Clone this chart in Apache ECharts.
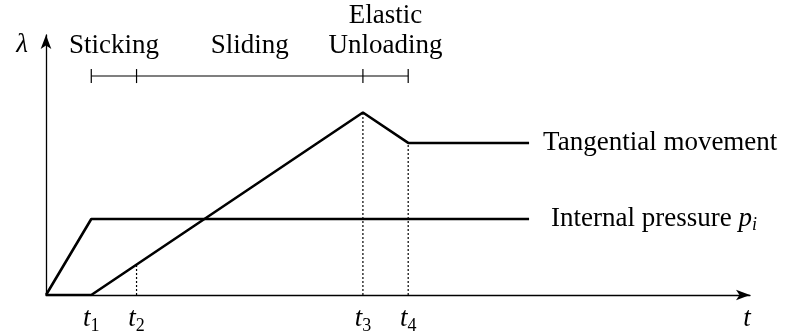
<!DOCTYPE html>
<html>
<head>
<meta charset="utf-8">
<script src="https://cdn.jsdelivr.net/npm/echarts@6/dist/echarts.min.js"></script>
<style>
  html, body { margin: 0; padding: 0; background: #fff; }
  #chart { width: 795px; height: 335px; }
</style>
</head>
<body>
<div id="chart"></div>
<script>
// instants marked on the t axis
const tickTimes = [1, 2, 7, 8]
const tickSubs = ["1", "2", "3", "4"]

// load curves, [t, lambda]
const pressure = [[0, 0], [1, 1], [10.67, 1]]
const tangential = [[0, 0], [1, 0], [7, 2.4], [8, 2.0], [10.67, 2.0]]

// dotted guides from the t axis up to the tangential curve
const guideTimes = [2, 7, 8]
const guideTops = [0.4, 2.4, 2.0]

// phase bar above the curves
const phaseLevel = 2.88
const phaseBounds = [1, 2, 7, 8]
const phaseMids = [1.5, 4.5, 7.5]
const phaseNames = ["Sticking", "Sliding", "Elastic\nUnloading"]

const FONT = "Liberation Serif"
const INK = "#000"
const SIZE = 27

const chart = echarts.init(document.getElementById("chart"))

const subRich = {
  t: { fontFamily: FONT, fontStyle: "italic", fontSize: SIZE, color: INK },
  s: { fontFamily: FONT, fontSize: 18, color: INK, padding: [14, 0, 0, 0] }
}

const guideSeries = guideTimes.map((t, i) => ({
  type: "line",
  data: [[t, 0], [t, guideTops[i]]],
  showSymbol: false,
  silent: true,
  lineStyle: { color: INK, width: 1.2, type: [2, 2] },
  z: 1
}))

chart.setOption({
  animation: false,
  backgroundColor: "#fff",
  textStyle: { fontFamily: FONT, color: INK },
  grid: { left: 46, right: 45, top: 35, bottom: 40 },
  xAxis: {
    type: "value",
    min: 0,
    max: 15.55,
    name: "t",
    nameLocation: "end",
    nameGap: -3,
    nameTextStyle: {
      fontFamily: FONT, fontStyle: "italic", fontSize: SIZE, color: INK,
      align: "center", verticalAlign: "top", padding: [10, 0, 0, 0]
    },
    axisLine: {
      lineStyle: { color: INK, width: 1.3 },
      symbol: ["none", "arrow"],
      symbolSize: [8, 14]
    },
    axisTick: { show: false },
    splitLine: { show: false },
    axisLabel: {
      customValues: tickTimes,
      margin: 8,
      formatter: (v) => "{t|t}{s|" + tickSubs[tickTimes.indexOf(v)] + "}",
      rich: subRich
    }
  },
  yAxis: {
    type: "value",
    min: 0,
    max: 3.42,
    name: "λ",
    nameLocation: "end",
    nameGap: 4,
    nameTextStyle: {
      fontFamily: FONT, fontStyle: "italic", fontSize: SIZE, color: INK,
      align: "right", verticalAlign: "top", padding: [0, 18, 0, 0]
    },
    axisLine: {
      show: true,
      lineStyle: { color: INK, width: 1.3 },
      symbol: ["none", "arrow"],
      symbolSize: [8, 14]
    },
    axisTick: { show: false },
    axisLabel: { show: false },
    splitLine: { show: false }
  },
  series: [
    ...guideSeries,
    {
      type: "line",
      name: "Internal pressure",
      data: pressure,
      showSymbol: false,
      lineStyle: { color: INK, width: 2.6 },
      endLabel: {
        show: true,
        distance: 22,
        formatter: "{n|Internal pressure }{p|p}{i|i}",
        rich: {
          n: { fontFamily: FONT, fontSize: SIZE, color: INK },
          p: { fontFamily: FONT, fontStyle: "italic", fontSize: SIZE, color: INK },
          i: { fontFamily: FONT, fontStyle: "italic", fontSize: 18, color: INK, padding: [12, 0, 0, 0] }
        }
      },
      z: 3
    },
    {
      type: "line",
      name: "Tangential movement",
      data: tangential,
      showSymbol: false,
      lineStyle: { color: INK, width: 2.6 },
      endLabel: {
        show: true,
        distance: 14,
        formatter: "{a}",
        fontFamily: FONT,
        fontSize: SIZE,
        color: INK
      },
      z: 3
    },
    {
      type: "line",
      data: [[phaseBounds[0], phaseLevel], [phaseBounds[phaseBounds.length - 1], phaseLevel]],
      showSymbol: false,
      lineStyle: { color: INK, width: 1.1 }
    },
    {
      type: "scatter",
      data: phaseBounds.map(t => [t, phaseLevel]),
      symbol: "rect",
      symbolSize: [1.2, 14],
      itemStyle: { color: INK, opacity: 1 }
    },
    {
      type: "scatter",
      data: phaseMids.map((t, i) => ({ value: [t, 3.08], name: phaseNames[i] })),
      symbolSize: 0,
      itemStyle: { opacity: 1 },
      label: {
        show: true,
        position: "top",
        distance: 0,
        formatter: "{b}",
        fontFamily: FONT,
        fontSize: SIZE,
        lineHeight: 30,
        color: INK
      }
    }
  ]
})
</script>
</body>
</html>
